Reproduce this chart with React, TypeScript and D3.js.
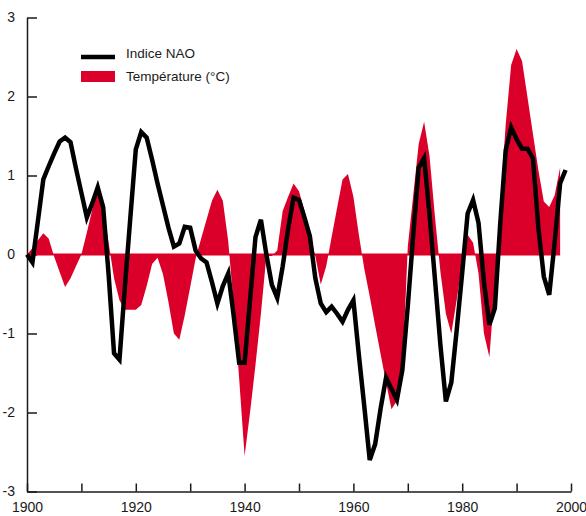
import * as d3 from "d3";
import React, { useRef, useEffect } from "react";

const width = 586;
const height = 516;
const margin = { top: 17.5, right: 15, bottom: 24.5, left: 27 };

const firstYear = 1900;

// Indice NAO, one value per year from 1900
const naoValues = [
  0.0, -0.1, 0.42, 0.95, 1.12, 1.28, 1.43, 1.48, 1.42, 1.09,
  0.78, 0.47, 0.65, 0.85, 0.6, -0.25, -1.25, -1.33, -0.4, 0.47,
  1.33, 1.55, 1.48, 1.2, 0.9, 0.62, 0.34, 0.1, 0.14, 0.35,
  0.34, 0.05, -0.05, -0.1, -0.35, -0.62, -0.4, -0.24, -0.78, -1.37,
  -1.37, -0.58, 0.22, 0.44, 0.0, -0.38, -0.55, -0.15, 0.32, 0.72,
  0.69, 0.47, 0.23, -0.3, -0.62, -0.73, -0.66, -0.75, -0.85, -0.7,
  -0.58, -1.27, -1.92, -2.6, -2.4, -1.95, -1.56, -1.7, -1.84, -1.46,
  -0.65, 0.25, 1.1, 1.22, 0.5, -0.32, -1.15, -1.86, -1.62, -0.95,
  -0.23, 0.52, 0.69, 0.4, -0.35, -0.89, -0.68, 0.4, 1.32, 1.61,
  1.46, 1.34, 1.34, 1.22, 0.34, -0.28, -0.51, 0.16, 0.9, 1.07,
];

// Température (°C), one value per year from 1900
const tempValues = [
  0.0, 0.08, 0.18, 0.27, 0.2, -0.03, -0.22, -0.41, -0.3, -0.15,
  0.0, 0.28, 0.57, 0.8, 0.6, 0.15, -0.3, -0.58, -0.7, -0.7,
  -0.7, -0.64, -0.4, -0.12, -0.04, -0.25, -0.6, -1.0, -1.08, -0.77,
  -0.41, -0.05, 0.2, 0.44, 0.68, 0.82, 0.68, 0.16, -0.65, -1.57,
  -2.55, -2.0, -1.4, -0.75, -0.02, -0.02, 0.05, 0.55, 0.73, 0.9,
  0.8, 0.55, 0.26, -0.02, -0.38, -0.15, 0.22, 0.59, 0.95, 1.02,
  0.73, 0.25, -0.18, -0.53, -0.9, -1.26, -1.62, -1.96, -1.85, -1.5,
  0.1, 0.75, 1.4, 1.68, 1.24, 0.47, -0.22, -0.75, -1.0, -0.57,
  -0.1, 0.25, 0.15, -0.24, -1.0, -1.3, -0.38, 0.64, 1.65, 2.4,
  2.6, 2.45, 1.99, 1.53, 1.07, 0.67, 0.6, 0.75, 1.1,
];

const xTicks = [1900, 1910, 1920, 1930, 1940, 1950, 1960, 1970, 1980, 1990, 2000];
const xLabels = [1900, 1920, 1940, 1960, 1980, 2000];
const yTicks = [-3, -2, -1, 0, 1, 2, 3];

const legendLabels = ["Indice NAO", "Température (°C)"];

const red = "#db0029";
const font = "'Liberation Sans', Arial, sans-serif";

const NaoChart = () => {
  const xAxisRef = useRef(null);
  const yAxisRef = useRef(null);

  const xScale = d3
    .scaleLinear()
    .domain([1900, 2000])
    .range([margin.left, width - margin.right]);

  const yScale = d3
    .scaleLinear()
    .domain([-3, 3])
    .range([height - margin.bottom, margin.top]);

  const nao = naoValues.map((v, i) => ({ year: firstYear + i, v }));
  const temp = tempValues.map((v, i) => ({ year: firstYear + i, v }));

  const line = d3
    .line()
    .x((d) => xScale(d.year))
    .y((d) => yScale(d.v));

  const area = d3
    .area()
    .x((d) => xScale(d.year))
    .y0(yScale(0))
    .y1((d) => yScale(d.v));

  useEffect(() => {
    if (xAxisRef.current) {
      const xAxis = d3
        .axisBottom(xScale)
        .tickValues(xTicks)
        .tickSizeInner(-8)
        .tickSizeOuter(0)
        .tickPadding(11)
        .tickFormat((d) => (xLabels.includes(d) ? String(d) : ""));
      const g = d3.select(xAxisRef.current).call(xAxis);
      g.selectAll("path, line").attr("stroke", "#1a1a1a").attr("stroke-width", 1.5);
      g.selectAll("text")
        .attr("fill", "#1a1a1a")
        .style("font-family", font)
        .style("font-size", "14px");
    }
    if (yAxisRef.current) {
      const yAxis = d3
        .axisLeft(yScale)
        .tickValues(yTicks)
        .tickSizeInner(-10)
        .tickSizeOuter(0)
        .tickPadding(12)
        .tickFormat((d) => String(d));
      const g = d3.select(yAxisRef.current).call(yAxis);
      g.selectAll("path, line").attr("stroke", "#1a1a1a").attr("stroke-width", 1.5);
      g.selectAll("text")
        .attr("fill", "#1a1a1a")
        .style("font-family", font)
        .style("font-size", "14px");
    }
  }, []);

  const lastTempYear = firstYear + tempValues.length - 1;

  return (
    <svg
      width={width}
      height={height}
      style={{ position: "absolute", left: 0, top: 0, background: "#fff" }}
    >
      <g ref={xAxisRef} transform={`translate(0, ${height - margin.bottom})`} />
      <g ref={yAxisRef} transform={`translate(${margin.left}, 0)`} />

      <path d={area(temp)} fill={red} />
      <line
        x1={xScale(firstYear)}
        x2={xScale(lastTempYear)}
        y1={yScale(0)}
        y2={yScale(0)}
        stroke={red}
        strokeWidth={2}
      />
      <path
        d={line(nao)}
        fill="none"
        stroke="#000"
        strokeWidth={4.5}
        strokeLinejoin="miter"
      />

      {/* legend */}
      <g fontFamily={font} fontSize={13.5} fill="#1a1a1a">
        <line x1={81} x2={115} y1={57} y2={57} stroke="#000" strokeWidth={4.5} />
        <text x={126} y={58}>{legendLabels[0]}</text>
        <rect x={81} y={71} width={34} height={11} fill={red} />
        <text x={126} y={81}>{legendLabels[1]}</text>
      </g>
    </svg>
  );
};

export default function App() {
  return <NaoChart />;
}
